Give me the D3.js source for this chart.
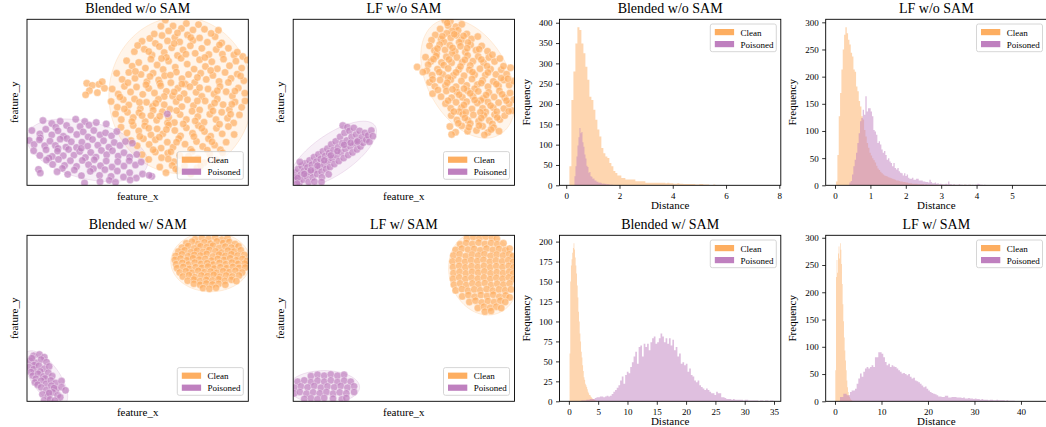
<!DOCTYPE html>
<html><head><meta charset="utf-8">
<script src="https://cdn.jsdelivr.net/npm/d3@7"></script>
<style>body{margin:0;background:#fff}svg{display:block}text{font-family:"Liberation Serif","Times New Roman",serif;fill:#000}</style>
</head><body><svg id="c" width="1046" height="427"></svg>
<script>
// ---------------- DATA ----------------
const titles = ["Blended w/o SAM", "LF w/o SAM", "Blended w/ SAM", "LF w/ SAM"];
const legendLabels = ["Clean", "Poisoned"];
const scatterXLabel = "feature_x", scatterYLabel = "feature_y";
const histXLabel = "Distance", histYLabel = "Frequency";

// Scatter panels: normalized feature coordinates [x, y] (0-100)
const s1Clean = [[62.5,99.5],[66,96],[69.8,94.5],[72,97.5],[75,93.6],[77.5,96.8],[80.2,94],[86.5,93.4],[64,93],
[52,86.8],[55.5,88.5],[58,85.5],[61,90.2],[63.5,87],[66.8,89],[69,86.4],[72.5,90.6],[75,87.2],[78,88.8],[81.5,86.2],[85,89.5],[88,85.8],[57.5,91.2],
[48.5,80.5],[50,84.2],[53,82],[56.5,78.5],[59.8,83.6],[62,80],[65.4,82.8],[68,78.2],[70.5,81.6],[73.8,84],[76,79.5],[79,82.5],[82.2,78.8],[85.5,81.8],[88.3,79],[91,82.6],[93.5,78.5],[97.5,77.6],[66.5,85.4],
[45,75],[47.5,71.8],[50.5,74],[53.5,70.6],[56,76],[58.8,72.5],[61.5,69.8],[64,74.8],[67,71.2],[69.6,76.5],[72.4,73],[75.5,70],[78,75.6],[80.6,71.6],[83.5,74.4],[86,70.2],[88.8,76],[91.5,72],[94.4,74.8],[97,70.6],[99.5,75.5],[63,77],
[40.5,67.5],[43,63.8],[46,68],[48.8,64.5],[51.5,66.8],[54.2,62.4],[57,67.6],[59.5,63.5],[62.2,66],[65,61.8],[67.5,68.2],[70,64.2],[73,66.8],[75.8,62],[78.5,67.5],[81,63.8],[84,66.2],[86.8,62.6],[89.5,68],[92.2,64.4],[95,67],[98,63],[60,61.5],[71.5,61],
[27,61.5],[29.5,60.2],[32.5,60.8],[35,58.5],[28.2,57],[31.8,55.8],[26.5,54.5],[34,62.4],
[38.5,58],[41.2,55],[44,59.6],[46.8,56.2],[49.5,59.2],[52.3,54.8],[55,58.4],[57.6,55.6],[60.4,60],[63,56.6],[65.8,53.8],[68.2,58.5],[71,55.2],[73.6,59.4],[76.4,56],[79,53.6],[81.8,58],[84.5,55],[87.2,59.5],[90,56.4],[92.8,53.8],[95.5,58.6],[98.4,55.5],[70,61],[62,53.5],
[38,50.5],[40.8,47],[43.5,51.6],[46,48.4],[48.6,52],[51.2,46.2],[54,50],[56.8,47.6],[59.4,51.8],[62,48.5],[64.6,45.8],[67.4,50.4],[70,47.4],[72.5,51.5],[75.2,48],[78,45.4],[80.5,50.8],[83.2,47.2],[86,52],[88.6,48.6],[91.4,45.6],[94,50.2],[97,47],[57,45.2],
[40,43],[42.6,39.6],[45.4,44],[48,40.8],[50.6,43.8],[53.4,38.4],[56,42],[58.6,39.2],[61.2,44.4],[64,41],[66.6,37.8],[69.2,42.6],[72,39.6],[74.6,44.6],[77.2,41.4],[80,38],[82.6,42.8],[85.4,39.6],[88,44],[90.6,40.4],[93.4,37.6],[96,42.4],[63.5,37.5],
[42.5,35],[45.2,31.6],[48,36],[50.5,32.8],[53.2,35.8],[56,30.4],[58.8,34],[61.4,31],[64,36.4],[66.8,33],[69.4,29.8],[72,34.6],[74.8,31.4],[77.4,36],[80.2,32.4],[83,29.6],[85.6,34.4],[88.2,31],[91,35.4],[93.6,30.6],
[47,27],[49.8,23.8],[52.6,28],[55.2,24.6],[58,27.4],[60.6,22.4],[63.4,26],[66,23],[68.6,28.2],[71.4,24.8],[74,21.6],[76.6,26.4],[79.4,23.4],[82,28],[84.8,24.2],[87.4,21.4],[90,26],
[52,18.5],[55,15.6],[58,20],[60.8,16.6],[63.6,19.4],[66.4,14.2],[69,18],[71.8,15],[74.6,20.4],[77.2,16.4],[80,13.6],[82.6,18.8],[85.4,15.2],
[60,11],[62.8,7.6],[65.6,12],[68.4,8.8],[71.2,11.6],[74,6.8],[76.8,10.4],
[60.5,95.8],[68,91.8],[74,89],[83.2,91.5],[55,80.6],[60.8,76.4],[71.8,79],[80.4,77],[87,84.6],[95,80.2],[49,68.6],[55.6,65.6],[64.8,66.4],[77,65],[83,69.2],[91,62],[96.5,65.8],[45.6,61.8],[53.8,60.6],[66.5,56.2],[78,58.8],[86,57],[94,56.8],[42,53.2],[50.8,50],[58.2,49.4],[69,52.8],[77,50.8],[84.8,49.6],[92.6,48.8],[98.5,50.8],[44,46],[52,42],[60,41.6],[67.6,45],[76,38.8],[84,44.8],[92,42.8],[47.4,38.4],[55,34.4],[63,33.6],[70.6,37],[79,34.4],[87,36.8],[51,29.4],[59.8,29],[67.6,26],[75.4,29.4],[83.6,26.2],[57,21.4],[65,20.2],[73,17.6],[81.5,21.2],[88.4,19.6],[67.2,9.8],[63.8,15.8],[78.4,11.8]];
const s1Pois = [[7.2,39],[11.2,37.2],[15,38.6],[17.9,36],[22,39.8],[26.1,38.4],[28,36.2],[31.3,37.8],[35.8,37],[24,35.4],[13,35],
[2.2,33],[5.8,31],[8.5,33.8],[11.2,30.4],[14,32.8],[16.4,29.6],[19.6,33.4],[22.5,30.6],[25.4,32.2],[27.6,29.2],[30.2,33],[33,30.4],[35.5,31.6],[38.2,29.8],[40.6,32.4],[6,28.6],[18,28.2],
[1,27],[3.2,24.6],[5.6,27.4],[8,23.8],[10.4,26.6],[12.8,24],[15,27.8],[17.6,23],[20,26.2],[22.4,22.8],[24.8,26],[27.4,23.6],[29.6,27.6],[32,24.2],[34.6,26.8],[37,23],[39.4,25.8],[42,24],[44.5,26.4],[47.6,25.4],[14,22.2],
[3,20.8],[5.8,18],[8.6,21.4],[11.4,17.4],[13.8,20.6],[16.4,17.8],[18.8,21.6],[21.2,18.2],[23.8,20.4],[26.4,16.8],[28.8,19.8],[31.2,17],[33.6,21],[36,18.4],[38.6,20.8],[41.2,17.6],[43.8,19.6],[46.4,17],[49.6,18.6],[24.5,22.3],[10,16.4],
[8.8,15.2],[11.6,12.6],[14.2,15.6],[17,12],[19.6,14.8],[22.4,11.4],[25,15],[27.8,12.4],[30.4,15.4],[33.2,11.8],[35.8,14.6],[38.4,11],[41,14.2],[43.8,11.6],[46.2,14.8],[49,12.2],[51.6,14],[16,10.2],[30,10],
[5.2,9.6],[6,7.4],[13.6,8.2],[18.4,6.6],[21.4,9.2],[24.6,5.8],[28.6,8.4],[32.8,6],[35.2,9.4],[38,5.4],[40.8,8.6],[43.6,5],[46.4,7.6],[49.4,4.4],[52.2,6.8],[56.4,5.4],
[26,1.4],[37.2,3],[40,1.8],[46.6,3.2],[33,2.2],[55.2,6],[63.4,43]];
const s1Ellipses = [[69.4,54.2,32.4,0,0,47.2],[27.2,21.1,27.2,-9.0,3.0,16.6]];

const s2Clean = [[68.5,99.5],[71,98.8],[70,96.2],[73.5,95.6],[66.4,94.2],[76.2,97],[74.5,93.4],[71.8,93],
[64.2,90.6],[66.8,88],[69.4,91.6],[71.2,88.8],[73.8,90.4],[76,87.6],[78.5,91.2],[80.6,88.2],[83.4,89.6],[62.5,87.4],[68.2,86.4],[75,86.2],
[61.6,84],[63.8,81.2],[66.2,84.8],[68.6,81.6],[70.8,84.4],[73.2,80.6],[75.6,83.8],[77.8,80.2],[80.2,84.6],[82.6,81.4],[85.2,84],[87.8,80.8],[64.8,79.2],[71.8,79.4],[79,86],
[59.8,77.2],[62.2,74.6],[64.6,77.8],[67,74],[69.2,77.4],[71.6,73.8],[74,77],[76.4,74.2],[78.8,78.2],[81.2,74.8],[83.6,77.6],[86,73.8],[88.4,77],[91,74.6],[93.4,76.4],[68,72.4],[80,72.2],[61,72.6],
[56,71.3],[60.4,69],[62.8,66.4],[65.2,70],[67.6,66.8],[70,70.4],[72.4,66.2],[74.8,69.8],[77.2,66],[79.6,69.6],[82,66.6],[84.4,70.2],[86.8,66.4],[89.2,70],[91.6,66.8],[94,69.6],[96.4,67],[75.6,71.6],[87.6,71.8],[98.2,70.8],
[61.6,62],[64,59.6],[66.4,63.4],[68.8,60],[71.2,63.6],[73.6,59.4],[76,62.8],[78.4,60.2],[80.8,64],[83.2,60.6],[85.6,63.2],[88,59.4],[90.4,62.6],[92.8,59.8],[95.2,63.4],[97.6,60.4],[99.6,62.8],[70,64.8],[82,58.2],[94,64.6],
[63,55.2],[66.8,53.4],[69.2,56.8],[71.6,52.8],[74,56.2],[76.4,53],[78.8,57],[81.2,53.6],[83.6,56.6],[86,52.4],[88.4,56],[90.8,53.2],[93.2,56.8],[95.6,52.8],[98,55.6],[99.6,51.6],[72,57.8],[84.8,51.2],
[68.8,49.2],[71.2,46.4],[73.6,50],[76,46.8],[78.4,50.4],[80.8,46],[83.2,49.6],[85.6,46.4],[88,50.2],[90.4,46.8],[92.8,49.8],[95.2,46.2],[97.6,49],[75,44.4],[87,44.2],[99,45],
[71.4,42],[74,39.4],[76.6,42.8],[79,39],[81.4,42.4],[83.8,38.6],[86.2,42.2],[88.6,39],[91,42.6],[93.4,39.6],[95.6,42],[80,37.2],[90,37],
[70.8,35.4],[73.4,32],[76.2,35.8],[82.8,33],[85.6,35.6],[88,31.8],[90.6,34.8],[93,32.6],[71.6,30.6],[86.4,30.4],
[69.6,97.8],[72.8,91],[67.4,89.8],[77,90],[65.2,82.4],[72,82.8],[78.6,82.6],[84,82],[63.4,76],[70.4,75.8],[77.6,75.6],[85,75.8],[90,78.6],[58.6,68.2],[66,68.2],[73.6,68],[81,68.2],[88,68],[95,71.8],[63,63.8],[69.6,61.8],[77.2,58.2],[85,61.6],[91.8,61],[97,64.2],[65.4,57.4],[75,54.6],[80,55.4],[87.2,54.4],[94.4,54.8],[70,51],[77.2,48.4],[82,51.4],[89.2,48],[96.4,51],[72.6,44.4],[78,44],[84.6,44],[92,44.4],[97.4,44.6],[77.6,40.6],[85,40.6],[92.2,40.8],[74.6,37.4],[84,36],[89.4,33.6],[78.8,32.6],[79.4,35]];
const s2Pois = [[0.4,3.2],[0.8,7.6],[1.6,5],[2.2,9.8],[2.8,1.6],[3.4,6.4],[3.8,11.6],
[4.4,3.4],[4.8,8.6],[5.4,13.2],[6,5.6],[6.4,10.8],[7,2],[7.4,15],[7.8,7.8],
[8.4,12.4],[8.8,4.8],[9.4,17],[9.8,9.4],[10.4,14.2],[10.8,6.8],[11.4,18.6],[11.8,11.2],
[12.4,15.8],[12.8,8.2],[13.4,20.4],[13.8,12.6],[14.4,17.6],[14.8,9.8],[15.4,22],[15.8,14.6],
[16.2,19.4],[16.6,11],[17.2,24.6],[17.6,16.2],[18.2,21.2],[18.6,12.8],[19.2,26.4],[19.6,18],
[20.2,22.8],[20.6,14.6],[21.2,29.2],[21.6,19.8],[22.2,25.4],[22.4,36],[22.8,16.4],[23.2,31.6],[23.6,21.8],
[24.2,27],[24.5,35],[24.8,18.2],[25.4,32.8],[25.8,23.4],[26.4,29.2],[26.8,19.8],[27.4,34.6],[27.8,25.2],
[28.4,30.6],[28.8,21.6],[29.4,27],[30,32.8],[30.4,23.4],[31,29],[31.6,25.6],
[32.4,31.6],[33,27.4],[33.8,30],[34.4,26.2],[35.3,33],[36,29.6],
[2,4.4],[5,6.8],[8,9],[11,11.8],[14,15],[17,18],[20,20.6],[23,24.4],[26,25.6],[29,26.4],[9.6,2.2],[13,4.8],[3,14],[1.8,1],[12.8,2],[16,6.6]];
const s2Ellipses = [[79,64.3,13.8,-34.1,16.3,11.2],[18.1,18.7,18.8,17.3,5.3,-9.9]];

const s3Clean = [[76,97.6],[79,98.4],[82,97.8],[85,98.8],[88,97.4],[90.6,98.2],
[72,95.2],[74.6,96.2],[77.4,94.8],[80.2,95.8],[83,95],[85.8,96.4],[88.6,95.4],[91.4,96],[94,94.8],
[70,92.6],[72.8,93.6],[75.6,92.2],[78.4,93.4],[81.2,92.8],[84,93.8],[86.8,92.4],[89.6,93.2],[92.4,92.6],[95.6,93.4],
[68.4,90.2],[71.2,91],[74,89.8],[76.8,90.8],[79.6,90],[82.4,91.2],[85.2,90.4],[88,89.6],[90.8,90.8],[93.6,90.2],[96.6,91],
[67.2,87.6],[70,88.6],[72.8,87.4],[75.6,88.2],[78.4,87.8],[81.2,88.8],[84,87.2],[86.8,88.4],[89.6,87.6],[92.4,88.6],[95.2,87.8],[98.2,88.2],
[66.8,85.2],[69.4,86],[72.2,85],[75,86.2],[77.8,85.4],[80.6,85.8],[83.4,84.8],[86.2,85.8],[89,85.2],[91.8,86.2],[94.6,85],[97.4,85.8],[99.4,84.6],
[67.4,82.6],[70.2,83.4],[73,82.4],[75.8,83.6],[78.6,82.8],[81.4,83.2],[84.2,82.4],[87,83.4],[89.8,82.6],[92.6,83.6],[95.4,82.8],[98.4,83],
[67.8,80.2],[70.6,81],[73.4,79.8],[76.2,80.8],[79,80.4],[81.8,81.2],[84.6,80],[87.4,80.8],[90.2,80.2],[93,81],[95.8,80.4],[98.6,80.6],
[69,77.6],[71.8,78.4],[74.6,77.4],[77.4,78.6],[80.2,77.8],[83,78.2],[85.8,77.4],[88.6,78.4],[91.4,77.8],[94.2,78.6],[97.2,77.6],
[70.4,75.2],[73.2,76],[76,74.8],[78.8,75.8],[81.6,75.4],[84.4,76.2],[87.2,75],[90,75.8],[92.8,75.2],[95.8,75.8],
[72.6,72.6],[75.4,73.4],[78.2,72.4],[81,73.2],[83.8,72.8],[86.6,73.6],[89.4,72.6],[92.4,73.2],[94.6,72.4],
[75.4,70.8],[78.2,70.2],[81,71],[83.8,70.4],[86.6,70.8],[89.6,70.2],
[79.5,68.2],[82.4,67.8],[85.4,68.4]];
const s3Pois = [[3,27.4],[5.6,28.2],[7.8,26.6],[1.4,24.4],[4,23.2],[6.4,25.2],[8.8,23.6],[3.2,21.8],[2.2,26],
[0.8,20.6],[3,19.4],[5.4,21.4],[7.8,19.6],[10,21],[1.8,17.6],[6,18],
[2.6,15.4],[5,16.6],[7.4,15],[9.6,17.2],[11.4,15.2],[4,13.6],[8.2,13.8],
[3.6,11.4],[6.4,12.4],[8.6,10.6],[10.8,12.6],[13,11],[15.6,12.2],[4.8,10],
[6.4,8.4],[8.8,6.8],[11,9.4],[13.2,7.2],[15.6,8.6],[17.4,6.6],[12.2,8],
[7,4.2],[9.4,3],[11.6,5.4],[13.8,3.6],[15,2.4],[10,5],
[7.8,0.6],[10.4,1.2],[12.6,0.4]];
const s3Ellipses = [[83,84,18,0,0,18],[8.5,14,8.5,-15.7,5.1,4.9]];

const s4Clean = [[78.5,98.2],[81.4,99],[84.2,98.4],[87,99.2],[89.8,98.6],[92,98],
[75.4,94.6],[78.2,95.4],[81,94.8],[83.8,95.6],[86.6,94.8],[89.4,95.4],[92.2,94.6],[95,95.2],
[73.4,91.2],[76.2,92],[79,91.4],[81.8,91.8],[84.6,91],[87.4,92],[90.2,91.2],[93,91.8],[95.8,91],[97.8,92],
[72.4,87.8],[75.2,88.6],[78,87.4],[80.8,88.4],[83.6,87.8],[86.4,88.6],[89.2,87.6],[92,88.4],[94.8,87.8],[97.6,88.6],[99.2,87.4],
[72,84.2],[74.8,85],[77.6,84],[80.4,85],[83.2,84.4],[86,85.2],[88.8,84],[91.6,84.8],[94.4,84.2],[97.2,85],[99.4,84],
[72.2,80.8],[75,81.6],[77.8,80.6],[80.6,81.4],[83.4,80.8],[86.2,81.6],[89,80.6],[91.8,81.4],[94.6,80.8],[97.4,81.6],[99.6,80.6],
[72.4,77.2],[75.2,78],[78,77],[80.8,78],[83.6,77.4],[86.4,78.2],[89.2,77],[92,77.8],[94.8,77.2],[97.6,78],[99.4,77],
[72.2,73.8],[75,74.6],[77.8,73.6],[80.6,74.4],[83.4,73.8],[86.2,74.6],[89,73.6],[91.8,74.4],[94.6,73.8],[97.4,74.6],[99.6,73.6],
[72.6,70.2],[75.4,71],[78.2,70],[81,71],[83.8,70.4],[86.6,71.2],[89.4,70],[92.2,70.8],[95,70.2],[97.8,71],
[73.4,66.8],[76.2,67.6],[79,66.6],[81.8,67.4],[84.6,66.8],[87.4,67.6],[90.2,66.6],[93,67.4],[95.8,66.8],[98.4,67.4],
[76.4,63.2],[79.2,64],[82,63],[84.8,64],[87.6,63.4],[90.4,64.2],[93.2,63],[96,63.8],[97.8,62.6],
[79.6,59.8],[82.4,60.6],[85.2,59.6],[88,60.4],[90.8,59.8],[93.6,60.6],[95.8,59.8],
[83.4,56.2],[86.2,57],[89,56.4],[91.8,57],[94,56.2],
[86.6,54],[89.4,54.4]];
const s4Pois = [[8,15.2],[11,16],[14,15.4],[17,16.2],[20,15.4],[23,16],
[2,11.8],[5,12.6],[8,11.6],[11,12.4],[14,11.8],[17,12.6],[20,11.6],[23,12.4],[26,11.8],
[0.5,8.2],[3.5,9],[6.5,8.4],[9.5,9.2],[12.5,8.2],[15.5,9],[18.5,8.4],[21.5,9.2],[24.5,8.2],[27.5,9],
[0.5,4.8],[3,5.6],[6,4.6],[9,5.4],[12,4.8],[15,5.6],[18,4.6],[21,5.4],[24,4.8],[27.5,5.6],
[5,1.4],[8,1.8],[11,1.2],[14,2],[18,1.6],[22,1.2],[24,2]];
const s4Ellipses = [[86,77,3,-25,15.5,1.5],[14,8.5,16,0,0,10]];

// Histograms: [start, binWidth] and counts per bin
const h1CleanBins = [0.12, 0.075];
const h1Clean = [47,210,280,349,389,382,349,325,292,260,218,210,186,161,137,120,92,79,71,67,55,47,35,30,24,24,18,18,14,14,14,14,14,10,10,10,10,10,6,6,6,6,6,6,6,6,6,6,5,6,5,5,4,4,5,4,4,3,3,3,3,3,3,2,2,3,3,2,2,2,1,1,2,1,1,1,1,1,1,0,1,1,0,1,0,1,1,0,0,1,0,0,1,0,0,1,0,0,0,1,1,0,0,1];
const h1PoisBins = [0.31, 0.0375];
const h1Pois = [22,47,71,98,118,141,128,131,106,95,76,66,48,45,31,33,22,21,16,17,12,12,9,9,6,7,6,5,3,5,3,4,2,3,2,2,1,2,1,1,1,1,1];
const h1XLim = [-0.252, 8.056], h1XTicks = [0,2,4,6,8], h1YTicks = [0,50,100,150,200,250,300,350,400];

const h2CleanBins = [0.03, 0.0377];
const h2Clean = [7,56,127,170,213,250,277,291,280,268,259,244,237,213,209,182,173,155,145,127,121,102,90,78,69,60,55,50,46,42,36,31,28,25,22,20,18,17,16,15,14,13,12,11,10,9,9,8,7,7,6,6,5,5,4,4,4,3,3,3,3,2,2,2,2,2,1,2,1,1,1,1,1,0,1,1,0,1,0,1,0,0,1,0,0,1,0,0,1,0,0,0,1,0,0,0,1,0,0,0,1];
const h2PoisBins = [0.405, 0.0377];
const h2Pois = [5,8,20,35,47,60,78,96,118,124,139,130,164,136,142,142,136,127,102,99,93,78,81,75,66,60,63,56,47,50,44,41,35,41,32,29,32,26,23,22,18,22,17,20,14,12,12,14,10,10,12,12,9,9,9,7,7,6,6,5,10,6,4,4,5,3,4,2,3,2,2,2,3,2,7,2,2,1,2,1,1,1,2,1,1,0,1,1,0,1,1,0,1,0,1,1,3,2,1,1,0,1];
const h2XLim = [-0.263, 5.99], h2XTicks = [0,1,2,3,4,5], h2YTicks = [0,50,100,150,200,250,300];

const h3CleanBins = [0.12, 0.115];
const h3Clean = [60,150,170,178,186,192,198,190,180,170,160,145,130,112,100,85,75,62,55,45,38,30,27,22,20,18,15,12,10,8,8,6,5,4,3,3,2,2,1,1];
const h3PoisBins = [1.84, 0.2875];
const h3Pois = [0,1,1,1,2,2,3,3,3,4,5,5,6,6,5,6,7,6,7,9,12,14,17,20,
26,31,22,33,37,35,43,49,56,62,47,68,70,56,72,68,72,64,74,79,81,72,74,79,85,81,74,79,72,79,70,77,64,68,56,60,47,49,45,47,37,41,33,31,26,24,26,20,18,16,14,16,14,12,10,10,8,12,10,10,
5,5,4,3,3,3,2,3,2,2,2,2,2,1,2,2,1,1,1,1,1,1,0,1,1,0,1,1,0,1,1];
const h3XLim = [-1.6, 36.16], h3XTicks = [0,5,10,15,20,25,30,35], h3YTicks = [0,25,50,75,100,125,150,175,200];

const h4CleanBins = [0.07, 0.143];
const h4Clean = [57,228,259,236,271,284,262,290,278,252,215,178,147,117,93,75,57,38,26,17,11,8,5,3,2,1];
const h4PoisBins = [1.075, 0.358];
const h4Pois = [8,8,14,14,11,11,17,20,20,23,32,42,51,45,54,60,63,60,63,66,63,81,81,90,90,87,81,72,66,69,63,66,64,63,60,57,54,51,52,50,48,50,45,42,43,38,37,35,32,29,26,27,23,20,17,15,14,13,11,9,9,8,8,10,10,7,7,8,8,8,7,7,7,6,7,5,5,6,5,5,4,5,4,4,3,4,3,3,3,2,3,3,2,2,3,2,2,2,2,1,2,1,1,1,1];
const h4XLim = [-2.0, 45.6], h4XTicks = [0,10,20,30,40], h4YTicks = [0,50,100,150,200,250,300];

// ---------------- LAYOUT / STYLE ----------------
const ORANGE = "#FDAE61", PURPLE = "#BF80BF";
const colX = [27, 293.2, 559.5, 825.7], axW = 221.3, rowY = [19.3, 235.3], axH = 166;
const svg = d3.select("#c");
const defs = svg.append("defs");
let clipN = 0;
function makeClip(x0, y0) {
  const id = "clip" + (clipN++);
  defs.append("clipPath").attr("id", id).append("rect").attr("x", x0).attr("y", y0).attr("width", axW).attr("height", axH);
  return "url(#" + id + ")";
}
function legend(g, bx, by) {
  g.append("rect").attr("x", bx).attr("y", by).attr("width", 66).attr("height", 27.7).attr("rx", 2)
    .attr("fill", "#fff").attr("fill-opacity", 0.8).attr("stroke", "#cccccc").attr("stroke-width", 0.8);
  [ORANGE, PURPLE].forEach((c, i) => {
    g.append("rect").attr("x", bx + 4.5).attr("y", by + 5 + i * 12).attr("width", 19.3).attr("height", 6.2).attr("fill", c);
    g.append("text").attr("x", bx + 30.3).attr("y", by + 11.5 + i * 12).attr("font-size", 9).text(legendLabels[i]);
  });
}
function common(g, x0, y0, title, xl, yl, xlOff, ylOff) {
  g.append("rect").attr("x", x0).attr("y", y0).attr("width", axW).attr("height", axH)
    .attr("fill", "none").attr("stroke", "#000").attr("stroke-width", 0.9);
  g.append("text").attr("x", x0 + axW / 2).attr("y", y0 - 6).attr("text-anchor", "middle").attr("font-size", 14).text(title);
  g.append("text").attr("x", x0 + axW / 2).attr("y", y0 + axH + xlOff).attr("text-anchor", "middle").attr("font-size", 11).text(xl);
  g.append("text").attr("transform", `translate(${x0 - ylOff},${y0 + axH / 2}) rotate(-90)`).attr("text-anchor", "middle").attr("font-size", 11).text(yl);
}
function scatterPanel(x0, y0, title, clean, pois, ells) {
  const x = d3.scaleLinear().domain([0, 100]).range([x0, x0 + axW]);
  const y = d3.scaleLinear().domain([0, 100]).range([y0 + axH, y0]);
  const g = svg.append("g");
  const inner = g.append("g").attr("clip-path", makeClip(x0, y0));
  const line = d3.line().x(d => x(d[0])).y(d => y(d[1])).curve(d3.curveLinearClosed);
  ells.forEach((e, i) => {
    const pts = d3.range(0, 2 * Math.PI, Math.PI / 60).map(t => [e[0] + e[2] * Math.cos(t) + e[4] * Math.sin(t), e[1] + e[3] * Math.cos(t) + e[5] * Math.sin(t)]);
    const c = i === 0 ? ORANGE : PURPLE;
    inner.append("path").attr("d", line(pts)).attr("fill", c).attr("fill-opacity", 0.13).attr("stroke", c).attr("stroke-opacity", 0.2).attr("stroke-width", 1);
  });
  [[clean, ORANGE], [pois, PURPLE]].forEach(([pts, c]) => {
    inner.selectAll(null).data(pts).enter().append("circle")
      .attr("cx", d => x(d[0])).attr("cy", d => y(d[1])).attr("r", 3.7)
      .attr("fill", c).attr("fill-opacity", 0.7).attr("stroke", "#fff").attr("stroke-opacity", 0.7).attr("stroke-width", 0.5);
  });
  common(g, x0, y0, title, scatterXLabel, scatterYLabel, 14.7, 9);
  legend(g, x0 + axW - 71, y0 + axH - 33.7);
}
function histPanel(x0, y0, title, series, xlim, xticks, yticks) {
  const ymax = d3.max(series, s => d3.max(s.counts)) * 1.05;
  const x = d3.scaleLinear().domain(xlim).range([x0, x0 + axW]);
  const y = d3.scaleLinear().domain([0, ymax]).range([y0 + axH, y0]);
  const g = svg.append("g");
  const inner = g.append("g").attr("clip-path", makeClip(x0, y0));
  series.forEach(s => {
    const [st, w] = s.bins;
    const p = d3.path();
    p.moveTo(x(st), y(0));
    s.counts.forEach((c, i) => { p.lineTo(x(st + i * w), y(c)); p.lineTo(x(st + (i + 1) * w), y(c)); });
    p.lineTo(x(st + s.counts.length * w), y(0));
    p.closePath();
    inner.append("path").attr("d", p.toString()).attr("fill", s.color).attr("fill-opacity", 0.5).attr("stroke", "none");
  });
  const ax = g.append("g").attr("transform", `translate(0,${y0 + axH})`)
    .call(d3.axisBottom(x).tickValues(xticks).tickFormat(d3.format("d")).tickSize(3.5).tickPadding(3.5));
  const ay = g.append("g").attr("transform", `translate(${x0},0)`)
    .call(d3.axisLeft(y).tickValues(yticks).tickFormat(d3.format("d")).tickSize(3.5).tickPadding(3.5));
  [ax, ay].forEach(a => {
    a.select(".domain").remove();
    a.selectAll("line").attr("stroke", "#000").attr("stroke-width", 0.8);
    a.selectAll("text").attr("font-size", 9).attr("font-family", '"Liberation Serif","Times New Roman",serif');
  });
  common(g, x0, y0, title, histXLabel, histYLabel, 24, 29.3);
  legend(g, x0 + axW - 70.5, y0 + 4.7);
}

scatterPanel(colX[0], rowY[0], titles[0], s1Clean, s1Pois, s1Ellipses);
scatterPanel(colX[1], rowY[0], titles[1], s2Clean, s2Pois, s2Ellipses);
scatterPanel(colX[0], rowY[1], titles[2], s3Clean, s3Pois, s3Ellipses);
scatterPanel(colX[1], rowY[1], titles[3], s4Clean, s4Pois, s4Ellipses);
histPanel(colX[2], rowY[0], titles[0], [{bins: h1CleanBins, counts: h1Clean, color: ORANGE}, {bins: h1PoisBins, counts: h1Pois, color: PURPLE}], h1XLim, h1XTicks, h1YTicks);
histPanel(colX[3], rowY[0], titles[1], [{bins: h2CleanBins, counts: h2Clean, color: ORANGE}, {bins: h2PoisBins, counts: h2Pois, color: PURPLE}], h2XLim, h2XTicks, h2YTicks);
histPanel(colX[2], rowY[1], titles[2], [{bins: h3CleanBins, counts: h3Clean, color: ORANGE}, {bins: h3PoisBins, counts: h3Pois, color: PURPLE}], h3XLim, h3XTicks, h3YTicks);
histPanel(colX[3], rowY[1], titles[3], [{bins: h4CleanBins, counts: h4Clean, color: ORANGE}, {bins: h4PoisBins, counts: h4Pois, color: PURPLE}], h4XLim, h4XTicks, h4YTicks);
</script></body></html>
